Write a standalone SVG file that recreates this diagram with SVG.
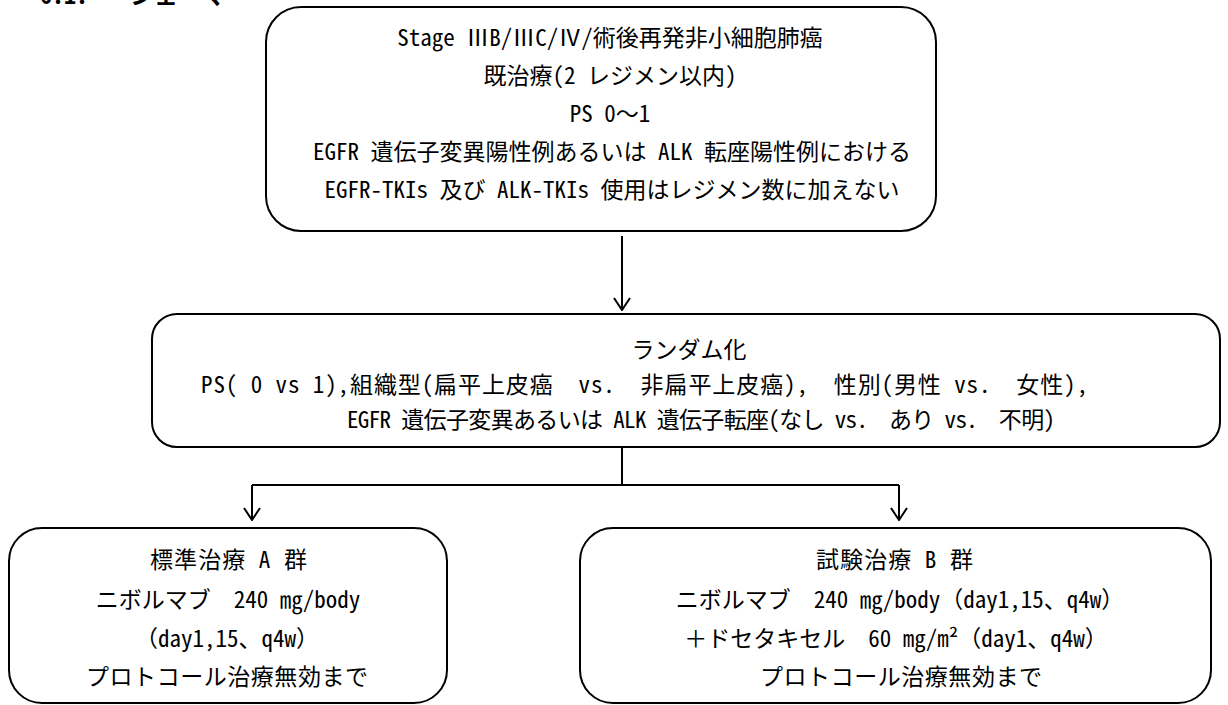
<svg xmlns="http://www.w3.org/2000/svg" width="1228" height="705" viewBox="0 0 1228 705">
  <style>
    text { font-family: "Noto Sans Mono CJK JP", "Noto Sans CJK JP", "Noto Sans", sans-serif; font-size: 23px; fill: #000; white-space: pre; }
    .c { text-anchor: middle; }
    .h { font-weight: bold; font-size: 24px; }
    .box { fill: #fff; stroke: #000; stroke-width: 2; }
    .ln { fill: none; stroke: #000; stroke-width: 2; }
  </style>
  <defs>
    <marker id="arr" viewBox="-1 -9 14 18" refX="12" refY="0" markerWidth="14" markerHeight="18" markerUnits="userSpaceOnUse" orient="auto">
      <path d="M0,-8 L12,0 L0,8" fill="none" stroke="#000" stroke-width="2"/>
    </marker>
  </defs>
  <rect width="1228" height="705" fill="#fff"/>

  <g id="heading">
    <text class="h" x="40" y="4">6.1.</text>
    <text class="h" x="130" y="4">シェーマ</text>
  </g>

  <g id="connectors">
    <path class="ln" d="M622,236 V310" marker-end="url(#arr)"/>
    <path class="ln" d="M622,447 V485"/>
    <path class="ln" d="M252,485 H899"/>
    <path class="ln" d="M252,485 V520" marker-end="url(#arr)"/>
    <path class="ln" d="M899,485 V520" marker-end="url(#arr)"/>
  </g>

  <g id="eligibility">
    <rect class="box" x="266" y="7" width="670" height="224" rx="35"/>
    <text class="c" x="610" y="46">Stage ⅢB/ⅢC/Ⅳ/術後再発非小細胞肺癌</text>
    <text class="c" x="610" y="84">既治療(2 レジメン以内)</text>
    <text class="c" x="610" y="122">PS 0〜1</text>
    <text class="c" x="612" y="160">EGFR 遺伝子変異陽性例あるいは ALK 転座陽性例における</text>
    <text class="c" x="612" y="198">EGFR-TKIs 及び ALK-TKIs 使用はレジメン数に加えない</text>
  </g>

  <g id="randomization">
    <rect class="box" x="152" y="314" width="1068" height="133" rx="25"/>
    <text class="c" x="689" y="358">ランダム化</text>
    <text x="201" y="393" textLength="887">PS( 0 vs 1),組織型(扁平上皮癌  vs.  非扁平上皮癌),  性別(男性 vs.  女性),</text>
    <text x="347" y="428" textLength="708">EGFR 遺伝子変異あるいは ALK 遺伝子転座(なし vs.  あり vs.  不明)</text>
  </g>

  <g id="armA">
    <rect class="box" x="9" y="528" width="438" height="175" rx="33"/>
    <text x="150" y="568" textLength="157">標準治療 A 群</text>
    <text class="c" x="228" y="608">ニボルマブ　240 ㎎/body</text>
    <text class="c" x="227" y="647">（day1,15、q4w）</text>
    <text x="86" y="685" textLength="282">プロトコール治療無効まで</text>
  </g>

  <g id="armB">
    <rect class="box" x="580" y="528" width="631" height="175" rx="33"/>
    <text x="816" y="568" textLength="157">試験治療 B 群</text>
    <text class="c" x="900" y="608">ニボルマブ　240 ㎎/body（day1,15、q4w）</text>
    <text class="c" x="896" y="647">＋ドセタキセル　60 mg/m²（day1、q4w）</text>
    <text x="760" y="685" textLength="282">プロトコール治療無効まで</text>
  </g>
</svg>
